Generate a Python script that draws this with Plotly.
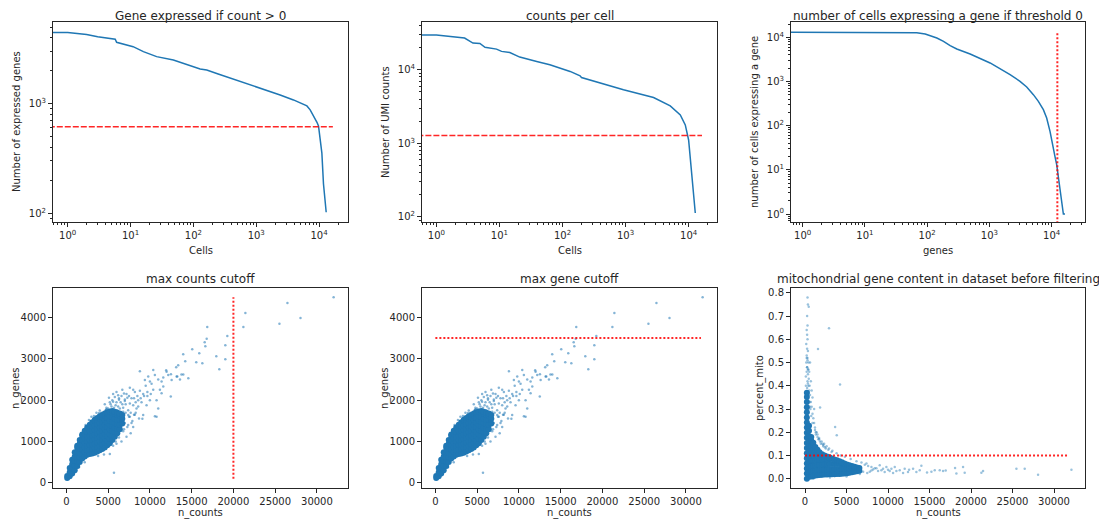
import plotly.graph_objects as go

# ---------------- data ----------------
# ranked genes per cell
cell_rank_1 = [0.5, 1, 2, 3, 5.7, 6, 11, 16, 26, 37, 48, 128, 163, 248, 434, 1475, 2400, 3910, 6400, 7210, 8680, 9250, 9790, 10420, 11070, 11750, 12970]
genes_per_cell = [4450, 4450, 4270, 4080, 3875, 3630, 3310, 2980, 2685, 2560, 2505, 2073, 2030, 1866, 1680, 1316, 1200, 1081, 953, 877, 736, 676, 627, 483, 354, 185, 102]
gene_threshold = 616
gene_thr_span = [0.5, 16560]

# ranked counts per cell
cell_rank_2 = [0.5, 1, 2.8, 3.8, 4.9, 5.9, 9, 10.8, 14.6, 21, 39, 63, 132, 190, 200, 446, 927, 2780, 5110, 7380, 8850, 10000, 10900, 12750]
counts_per_cell = [29700, 29700, 27000, 23100, 22800, 20200, 19100, 17800, 17200, 14900, 13000, 11700, 9500, 8280, 7860, 6440, 5340, 4200, 3230, 2430, 1778, 1110, 534, 113]
count_threshold = 1273
count_thr_span = [0.5, 16290]

# ranked cells per gene
gene_rank = [0.5, 68, 93, 112, 143, 183, 234, 299, 383, 490, 1025, 1675, 2146, 3100, 3970, 5080, 6110, 7350, 8310, 9400, 10370, 11300, 12030, 12800, 13600, 14500, 15400, 16370]
cells_per_gene = [13100, 12700, 11900, 10900, 9660, 8130, 6470, 5440, 4820, 4200, 2630, 1790, 1430, 1010, 750, 504, 356, 230, 149, 74.5, 40.5, 20, 13.1, 7.1, 4.2, 2.3, 1, 1]
gene_cut_x = 12330
gene_cut_span = [0.5, 13700]

# scatter: dense core of (n_counts, n_genes) cells, by n_counts column
core_cols = [
    (100, [120, 170]),
    (400, [160, 260, 360]),
    (700, [230, 340, 450, 560]),
    (1000, [310, 420, 530, 640, 740]),
    (1300, [410, 520, 630, 740, 850, 900]),
    (1600, [510, 620, 730, 840, 950, 1040]),
    (1900, [590, 700, 810, 920, 1030, 1140, 1170]),
    (2200, [640, 750, 860, 970, 1080, 1190, 1260]),
    (2500, [680, 790, 900, 1010, 1120, 1230, 1340]),
    (2800, [700, 810, 920, 1030, 1140, 1250, 1360, 1410]),
    (3100, [710, 820, 930, 1040, 1150, 1260, 1370, 1470]),
    (3400, [730, 840, 950, 1060, 1170, 1280, 1390, 1500, 1530]),
    (3700, [760, 870, 980, 1090, 1200, 1310, 1420, 1530, 1570]),
    (4000, [790, 900, 1010, 1120, 1230, 1340, 1450, 1560, 1610]),
    (4300, [820, 930, 1040, 1150, 1260, 1370, 1480, 1590, 1640]),
    (4600, [860, 970, 1080, 1190, 1300, 1410, 1520, 1630, 1680]),
    (4900, [910, 1020, 1130, 1240, 1350, 1460, 1570, 1680, 1710]),
    (5200, [960, 1070, 1180, 1290, 1400, 1510, 1620, 1730]),
    (5500, [1040, 1150, 1260, 1370, 1480, 1590, 1700, 1740]),
    (5800, [1120, 1230, 1340, 1450, 1560, 1670, 1720]),
    (6100, [1200, 1310, 1420, 1530, 1640, 1700]),
    (6400, [1300, 1410, 1520, 1630, 1680]),
    (6700, [1440, 1550, 1640]),
]
sparse_counts = [4600, 5100, 4800, 5300, 5600, 5900, 6200, 6500, 6800, 7100, 7400, 7000, 6600, 6300, 5800, 6000, 6700, 7200, 7600, 8000,
                 7800, 8200, 8500, 8800, 9200, 9500, 9000, 8600, 7500, 7900, 8300, 8700, 6900, 7200, 6600, 7400, 8000, 9100, 9600, 10000,
                 10400, 10800, 11200, 11400, 11600, 12000, 12200, 12600, 13200, 13600, 14000, 10400, 10600, 9800, 9400, 10000, 11000, 11600, 11400, 8800,
                 12500, 11000, 10600, 9200, 10800, 8400, 5700, 4000, 3600, 3000, 2700, 2300, 5200, 6000, 4500, 3800, 1500, 2200, 7700, 8100,
                 32000, 26470, 28030, 25510, 21430, 21190, 19270, 19030, 19030, 18310, 17950, 16870, 16800, 16560, 16640, 15910, 16280, 15550, 15070, 13990,
                 14230, 13390, 13150, 11950, 12520, 14600, 13780, 13280, 9700, 10200,
                 5000, 5400, 5700, 6100, 6400, 6800, 7100, 7400, 7700, 5200, 5500, 6000, 6300, 6700, 7000, 7300, 7600, 8000, 8300, 8600,
                 4800, 5600, 6200, 6900, 7500, 8100, 8900, 9300, 9700, 10100, 4200, 4700, 3300, 3900, 6500, 7000, 7600, 8200,
                 6300, 6800, 7300, 7800, 5600, 5900]
sparse_genes = [1900, 2060, 1820, 1900, 1960, 1880, 1850, 1950, 1820, 1900, 1760, 2020, 2100, 2010, 2080, 2200, 2250, 2150, 2300, 2250,
                2050, 2200, 2100, 2230, 2150, 2350, 1950, 1850, 1600, 1500, 1700, 1560, 1300, 1120, 1000, 1400, 1350, 1550, 1880, 2000,
                2250, 2000, 2250, 2170, 2330, 2690, 2610, 2490, 2570, 2500, 2620, 2730, 2610, 2570, 2490, 2450, 2500, 2550, 2450, 2700,
                2090, 1800, 1610, 1640, 1600, 1800, 250, 1750, 1700, 1600, 1520, 1400, 700, 950, 690, 650, 380, 500, 1200, 1650,
                4490, 4350, 3985, 3850, 4106, 3767, 3549, 3330, 2991, 2749, 3064, 3767, 3484, 3403, 3306, 3136, 2894, 2918, 3233, 3112,
                2942, 2846, 2797, 2724, 2627, 2530, 2620, 2570, 2100, 2400,
                1800, 1850, 1820, 1760, 1800, 1720, 1700, 1640, 1700, 1950, 2000, 1950, 2050, 1900, 1980, 2060, 1920, 1880, 1950, 2000,
                1780, 2150, 2120, 2160, 2100, 2050, 2050, 2100, 2200, 2150, 1700, 1760, 1620, 1690, 1500, 1450, 1600, 1650,
                1100, 1250, 1350, 1450, 900, 1000]
max_counts_cutoff = 20000
max_counts_span = [100, 4490]
max_genes_cutoff = 3500
max_genes_span = [0, 31800]

# scatter: dense core of (n_counts, percent_mito) cells, by n_counts column
mito_cols = [
    (220, [0.0, 0.022, 0.044, 0.066, 0.088, 0.11, 0.132, 0.154, 0.176, 0.198, 0.22, 0.242, 0.264, 0.286, 0.308, 0.33, 0.352, 0.37]),
    (480, [0.008, 0.03, 0.052, 0.074, 0.096, 0.118, 0.14, 0.162, 0.184, 0.206, 0.228]),
    (750, [0.01, 0.032, 0.054, 0.076, 0.098, 0.12, 0.142, 0.164, 0.18]),
    (1000, [0.012, 0.034, 0.056, 0.078, 0.1, 0.122, 0.144, 0.155]),
    (1250, [0.014, 0.036, 0.058, 0.08, 0.102, 0.124, 0.137]),
    (1500, [0.015, 0.037, 0.059, 0.081, 0.103, 0.125]),
    (1750, [0.016, 0.038, 0.06, 0.082, 0.104, 0.114]),
    (2050, [0.017, 0.039, 0.061, 0.083, 0.105]),
    (2350, [0.018, 0.04, 0.062, 0.084, 0.1]),
    (2650, [0.018, 0.04, 0.062, 0.084, 0.096]),
    (2950, [0.019, 0.041, 0.063, 0.085, 0.092]),
    (3250, [0.019, 0.041, 0.063, 0.087]),
    (3550, [0.019, 0.041, 0.063, 0.083]),
    (3850, [0.02, 0.042, 0.064, 0.079]),
    (4150, [0.02, 0.042, 0.064, 0.075]),
    (4450, [0.021, 0.043, 0.065, 0.071]),
    (4750, [0.022, 0.044, 0.065]),
    (5050, [0.024, 0.045, 0.061]),
    (5350, [0.026, 0.044, 0.058]),
    (5650, [0.028, 0.044, 0.055]),
    (5950, [0.03, 0.044, 0.052]),
    (6250, [0.032, 0.048]),
    (6550, [0.034, 0.046]),
]
mito_sparse_counts = [300, 350, 450, 250, 300, 200, 250, 300, 150, 250, 350, 200, 300, 150, 400, 250, 350, 500, 450, 550,
                      600, 700, 800, 900, 1000, 1100, 1200, 1300, 1500, 1700, 2000, 2300, 2600, 2900, 3300, 3800, 4300, 4800, 5500, 6200,
                      6800, 7200, 7600, 8000, 8400, 7000, 7500, 8000, 6600, 5000, 3000, 2000, 1000, 1566, 2890, 4217, 1815, 3624, 3824, 1100,
                      800, 700, 600, 900, 32100, 28080, 26470, 25470, 21450, 21250, 19040, 19240, 18240, 18080, 16950, 16630, 16230, 15630, 15230, 14700,
                      14020, 13820, 13420, 13020, 12540, 12410, 12010, 11810, 11410, 11010, 10810, 10610, 10410, 10200, 10000, 9800, 9600, 9400, 9200, 9000,
                      8800, 8600, 8200, 7800, 7400, 1400, 1600, 1900, 2200, 2500,
                      100, 200, 300, 400, 500, 150, 250, 350, 450, 550, 650, 750, 200, 300, 400, 100, 250, 350, 600, 900,
                      1200, 1500, 1800, 2100, 2400, 1300, 1700, 2200, 2800, 3200]
mito_sparse_pct = [0.78, 0.75, 0.74, 0.70, 0.66, 0.64, 0.62, 0.60, 0.58, 0.56, 0.55, 0.53, 0.52, 0.50, 0.50, 0.48, 0.47, 0.46, 0.43, 0.40,
                   0.36, 0.33, 0.31, 0.28, 0.26, 0.24, 0.22, 0.20, 0.19, 0.175, 0.16, 0.15, 0.14, 0.13, 0.12, 0.11, 0.10, 0.095, 0.085, 0.075,
                   0.07, 0.06, 0.055, 0.05, 0.045, 0.03, 0.025, 0.035, 0.02, 0.01, 0.005, 0.008, 0.0, 0.558, 0.648, 0.406, 0.307, 0.223, 0.187, 0.30,
                   0.38, 0.42, 0.50, 0.35, 0.039, 0.017, 0.043, 0.043, 0.033, 0.026, 0.050, 0.026, 0.022, 0.046, 0.035, 0.033, 0.036, 0.036, 0.030, 0.027,
                   0.056, 0.036, 0.029, 0.043, 0.039, 0.029, 0.043, 0.025, 0.036, 0.033, 0.050, 0.025, 0.043, 0.033, 0.039, 0.050, 0.029, 0.043, 0.036, 0.058,
                   0.033, 0.045, 0.040, 0.030, 0.065, 0.20, 0.17, 0.15, 0.14, 0.13,
                   0.44, 0.46, 0.42, 0.40, 0.38, 0.36, 0.48, 0.45, 0.37, 0.33, 0.30, 0.27, 0.52, 0.51, 0.47, 0.40, 0.39, 0.41, 0.31, 0.24,
                   0.21, 0.18, 0.16, 0.15, 0.135, 0.19, 0.17, 0.145, 0.125, 0.115]
mito_cutoff = 0.1
mito_span = [0, 31730]

titles = ["Gene expressed if count > 0", "counts per cell", "number of cells expressing a gene if threshold 0",
          "max counts cutoff", "max gene cutoff", "mitochondrial gene content in dataset before filtering"]
xlabels = ["Cells", "Cells", "genes", "n_counts", "n_counts", "n_counts"]
ylabels = ["Number of expressed genes", "Number of UMI counts", "number of cells expressing a gene",
           "n_genes", "n_genes", "percent_mito"]
count_ticks = [0, 5000, 10000, 15000, 20000, 25000, 30000]
gene_ticks = [0, 1000, 2000, 3000, 4000]
mito_ticks = [0.0, 0.1, 0.2, 0.3, 0.4, 0.5, 0.6, 0.7, 0.8]

# ---------------- figure ----------------
W, H = 1107, 526
OFF = 8  # page body margin offset
BLUE = "#1f77b4"
TXT = "#262626"
RED = "rgba(255,0,0,0.85)"
FONT = "DejaVu Sans"

core_x = [c for c, gs in core_cols for _ in gs]
core_y = [g for _, gs in core_cols for g in gs]
mcore_x = [c for c, ms in mito_cols for _ in ms]
mcore_y = [m for _, ms in mito_cols for m in ms]

fig = go.Figure()

def line(x, y, ax, **kw):
    fig.add_trace(go.Scatter(x=x, y=y, mode="lines", xaxis="x" + ax, yaxis="y" + ax, showlegend=False, hoverinfo="skip", **kw))

def pts(x, y, ax, size, opacity):
    fig.add_trace(go.Scatter(x=x, y=y, mode="markers", xaxis="x" + ax, yaxis="y" + ax, showlegend=False,
                             marker=dict(color=BLUE, size=size, opacity=opacity, line=dict(width=0))))

line(cell_rank_1, genes_per_cell, "", line=dict(color=BLUE, width=1.5))
line(gene_thr_span, [gene_threshold] * 2, "", line=dict(color=RED, width=1.5, dash="6px,2px"))
line(cell_rank_2, counts_per_cell, "2", line=dict(color=BLUE, width=1.5))
line(count_thr_span, [count_threshold] * 2, "2", line=dict(color=RED, width=1.5, dash="6px,2px"))
line(gene_rank, cells_per_gene, "3", line=dict(color=BLUE, width=1.5))
line([gene_cut_x] * 2, gene_cut_span, "3", line=dict(color=RED, width=2, dash="2px,2px"))

for ax in ["4", "5"]:
    pts(core_x, core_y, ax, 6, 1.0)
    pts(sparse_counts, sparse_genes, ax, 2.5, 0.55)
line([max_counts_cutoff] * 2, max_counts_span, "4", line=dict(color=RED, width=2, dash="2px,2px"))
line(max_genes_span, [max_genes_cutoff] * 2, "5", line=dict(color=RED, width=2, dash="2px,2px"))

pts(mcore_x, mcore_y, "6", 6, 1.0)
pts(mito_sparse_counts, mito_sparse_pct, "6", 2.5, 0.45)
line(mito_span, [mito_cutoff] * 2, "6", line=dict(color=RED, width=2, dash="2px,2px"))

# axes placement in page pixels (left, right, top, bottom)
boxes = [(53, 348, 22, 222), (422, 717, 22, 222), (791, 1085, 22, 222),
         (53, 348, 288, 488), (422, 717, 288, 488), (791, 1085, 288, 488)]

base = dict(showline=True, linecolor=TXT, linewidth=1, mirror=True, ticks="outside", ticklen=4, tickwidth=1,
            tickcolor=TXT, showgrid=False, zeroline=False, tickfont=dict(size=10, color=TXT, family=FONT))

def logaxis(lo, hi, rng):
    vals = [10 ** k for k in range(lo, hi + 1)]
    txt = ["10<sup>%d</sup>" % k for k in range(lo, hi + 1)]
    minor = [m * 10 ** k for k in range(lo - 1, hi + 1) for m in range(2, 10)]
    return dict(base, type="log", range=rng, tickmode="array", tickvals=vals, ticktext=txt,
                minor=dict(tickmode="array", tickvals=minor, ticks="outside", ticklen=2, tickwidth=0.8, tickcolor=TXT))

def linaxis(rng, vals, fmt):
    return dict(base, range=rng, tickmode="array", tickvals=vals, ticktext=[fmt % v for v in vals])

xaxes = [logaxis(0, 4, [-0.234, 4.46]), logaxis(0, 4, [-0.228, 4.45]), logaxis(0, 4, [-0.187, 4.535]),
         linaxis([-1600, 33720], count_ticks, "%d"),
         linaxis([-1600, 33720], count_ticks, "%d"),
         linaxis([-1690, 33735], count_ticks, "%d")]
yaxes = [logaxis(2, 3, [1.92, 3.745]), logaxis(2, 4, [1.93, 4.65]), logaxis(0, 4, [-0.181, 4.347]),
         linaxis([-121, 4711], gene_ticks, "%d"),
         linaxis([-121, 4711], gene_ticks, "%d"),
         linaxis([-0.04, 0.821], mito_ticks, "%.1f")]

def px(x):
    return (x - OFF) / W

def py(y):
    return 1 - (y - OFF) / H

layout = {}
annotations = []
ylab_x = [17, 386, 755, 16, 385, 760]
for i, (l, r, t, b) in enumerate(boxes):
    sfx = "" if i == 0 else str(i + 1)
    layout["xaxis" + sfx] = dict(xaxes[i], domain=[px(l), px(r)], anchor="y" + sfx)
    layout["yaxis" + sfx] = dict(yaxes[i], domain=[py(b), py(t)], anchor="x" + sfx)
    cx = (l + r) / 2
    cy = (t + b) / 2
    title_y = 16 if i < 3 else 279
    xl_y = 250 if i < 3 else 513
    annotations.append(dict(text=titles[i], x=px(cx), y=py(title_y), xref="paper", yref="paper",
                            showarrow=False, xanchor="center", yanchor="middle", font=dict(size=12, color=TXT, family=FONT)))
    annotations.append(dict(text=xlabels[i], x=px(cx), y=py(xl_y), xref="paper", yref="paper",
                            showarrow=False, xanchor="center", yanchor="middle", font=dict(size=10, color=TXT, family=FONT)))
    annotations.append(dict(text=ylabels[i], x=px(ylab_x[i]), y=py(cy), xref="paper", yref="paper", textangle=-90,
                            showarrow=False, xanchor="center", yanchor="middle", font=dict(size=10, color=TXT, family=FONT)))

fig.update_layout(**layout)
fig.update_layout(width=W, height=H, margin=dict(l=0, r=0, t=0, b=0), paper_bgcolor="white", plot_bgcolor="white",
                  annotations=annotations, font=dict(family=FONT, color=TXT), showlegend=False)

fig.write_html("out.html")
